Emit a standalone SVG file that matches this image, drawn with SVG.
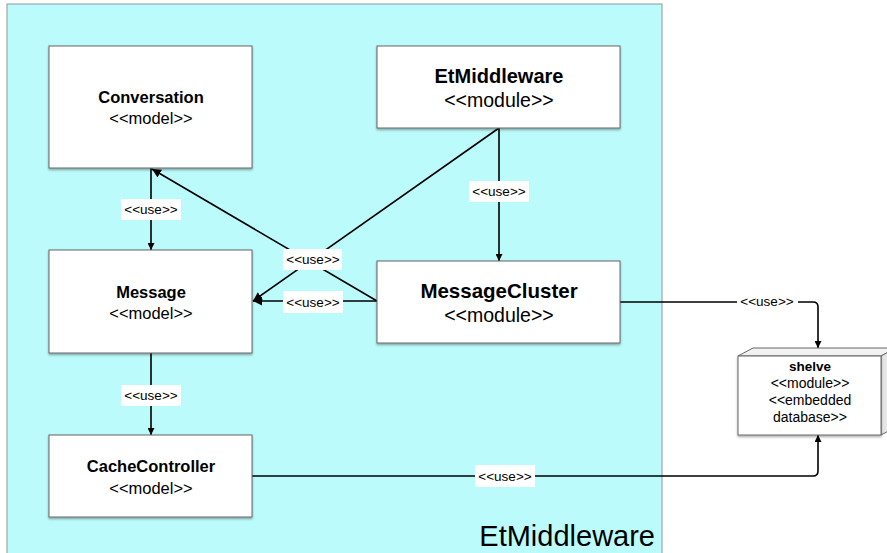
<svg xmlns="http://www.w3.org/2000/svg" width="887" height="553" viewBox="0 0 887 553">
  <style>
    .box { fill: #ffffff; stroke: #666666; stroke-width: 1; filter: url(#shadow); }
    .title { font-family: "Liberation Sans", Arial, sans-serif; font-weight: bold; fill: #000; text-anchor: middle; }
    .stereo { font-family: "Liberation Sans", Arial, sans-serif; fill: #000; text-anchor: middle; }
    .edge { fill: none; stroke: #000; stroke-width: 1.6; }
    .lblbg { fill: #ffffff; }
    .lbl { font-family: "Liberation Sans", Arial, sans-serif; font-size: 13.5px; fill: #000; text-anchor: middle; }
  </style>
  <defs>
    <filter id="shadow" x="-10%" y="-10%" width="120%" height="130%">
      <feDropShadow dx="0" dy="1.5" stdDeviation="1" flood-color="#000" flood-opacity="0.35"/>
    </filter>
    <marker id="arrow" viewBox="0 0 10 10" refX="10" refY="5" markerWidth="7" markerHeight="7" markerUnits="userSpaceOnUse" orient="auto">
      <path d="M0,0 L10,5 L0,10 z" fill="#000"/>
    </marker>
    <marker id="arrowL" viewBox="0 0 10 10" refX="10" refY="5" markerWidth="9" markerHeight="9" markerUnits="userSpaceOnUse" orient="auto">
      <path d="M0,0 L10,5 L0,10 z" fill="#000"/>
    </marker>
  </defs>

  <rect width="887" height="553" fill="#ffffff"/>

  <!-- package container -->
  <g id="pkg-etmiddleware">
    <rect x="7" y="4" width="655" height="560" fill="#bcfbfb" stroke="#8a9a9a" stroke-width="1"/>
    <text x="655" y="546" font-family="Liberation Sans, Arial, sans-serif" font-size="29" text-anchor="end" fill="#000">EtMiddleware</text>
  </g>

  <!-- connectors -->
  <g id="connectors">
    <line class="edge" x1="151" y1="168" x2="151" y2="250" marker-end="url(#arrow)"/>
    <line class="edge" x1="151" y1="353" x2="151" y2="435" marker-end="url(#arrow)"/>
    <line class="edge" x1="499" y1="128" x2="499" y2="261" marker-end="url(#arrow)"/>
    <line class="edge" x1="499" y1="128" x2="253" y2="301" marker-end="url(#arrowL)"/>
    <line class="edge" x1="377" y1="301" x2="152" y2="169" marker-end="url(#arrowL)"/>
    <line class="edge" x1="377" y1="301" x2="253" y2="301" marker-end="url(#arrowL)"/>
    <path class="edge" d="M620,302 H813 Q818,302 818,307 V348" marker-end="url(#arrow)"/>
    <path class="edge" d="M252,476 H813 Q818,476 818,471 V435" marker-end="url(#arrow)"/>

    <rect class="lblbg" x="121" y="199" width="60" height="21"/>
    <text class="lbl" x="151" y="214">&lt;&lt;use&gt;&gt;</text>
    <rect class="lblbg" x="121" y="385" width="60" height="21"/>
    <text class="lbl" x="151" y="400">&lt;&lt;use&gt;&gt;</text>
    <rect class="lblbg" x="469" y="181" width="60" height="21"/>
    <text class="lbl" x="499" y="196">&lt;&lt;use&gt;&gt;</text>
    <rect class="lblbg" x="283" y="249" width="59" height="21"/>
    <text class="lbl" x="313" y="264">&lt;&lt;use&gt;&gt;</text>
    <rect class="lblbg" x="283" y="291" width="60" height="22"/>
    <text class="lbl" x="313" y="307">&lt;&lt;use&gt;&gt;</text>
    <rect class="lblbg" x="737" y="292" width="61" height="20"/>
    <text class="lbl" x="767" y="306">&lt;&lt;use&gt;&gt;</text>
    <rect class="lblbg" x="475" y="465" width="60" height="22"/>
    <text class="lbl" x="505" y="481">&lt;&lt;use&gt;&gt;</text>
  </g>

  <!-- nodes -->
  <g id="node-conversation">
    <rect class="box" x="49" y="46" width="203" height="122"/>
    <text class="title" x="151" y="103" font-size="16.5">Conversation</text>
    <text class="stereo" x="151" y="124" font-size="16.5">&lt;&lt;model&gt;&gt;</text>
  </g>

  <g id="node-etmiddleware">
    <rect class="box" x="377" y="46" width="243" height="82"/>
    <text class="title" x="499" y="83" font-size="20">EtMiddleware</text>
    <text class="stereo" x="499" y="107" font-size="19.5">&lt;&lt;module&gt;&gt;</text>
  </g>

  <g id="node-message">
    <rect class="box" x="49" y="250" width="203" height="103"/>
    <text class="title" x="151" y="298" font-size="16.5">Message</text>
    <text class="stereo" x="151" y="319" font-size="16.5">&lt;&lt;model&gt;&gt;</text>
  </g>

  <g id="node-messagecluster">
    <rect class="box" x="377" y="261" width="243" height="82"/>
    <text class="title" x="499" y="298" font-size="20.5">MessageCluster</text>
    <text class="stereo" x="499" y="322" font-size="19.5">&lt;&lt;module&gt;&gt;</text>
  </g>

  <g id="node-cachecontroller">
    <rect class="box" x="49" y="435" width="203" height="82"/>
    <text class="title" x="151" y="472" font-size="16.5">CacheController</text>
    <text class="stereo" x="151" y="494" font-size="16.5">&lt;&lt;model&gt;&gt;</text>
  </g>

  <g id="node-shelve">
    <path d="M738,356 L753,348 L896,348 L881,356 z" fill="#f2f2f2" stroke="#666" stroke-width="1"/>
    <path d="M881,356 L896,348 L896,427 L881,435 z" fill="#e6e6e6" stroke="#666" stroke-width="1"/>
    <rect class="box" x="738" y="356" width="143" height="79"/>
    <text class="title" x="810" y="371" font-size="13.5">shelve</text>
    <text class="stereo" x="810" y="388" font-size="14">&lt;&lt;module&gt;&gt;</text>
    <text class="stereo" x="810" y="405" font-size="14">&lt;&lt;embedded</text>
    <text class="stereo" x="810" y="422" font-size="14">database&gt;&gt;</text>
  </g>
</svg>
